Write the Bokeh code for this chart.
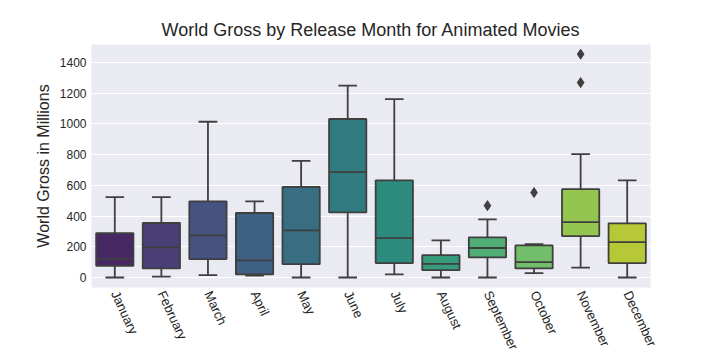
import colorsys
import numpy as np
from bokeh.plotting import figure
from bokeh.models import FixedTicker, ColumnDataSource
from bokeh.palettes import Viridis256
from bokeh.transform import dodge
from bokeh.embed import file_html
from bokeh.resources import INLINE

months = ["January", "February", "March", "April", "May", "June", "July",
          "August", "September", "October", "November", "December"]
whisk_low = [0, 6, 15, 13, 0, 0, 20, 0, 0, 28, 65, 0]
q1 = [76, 59, 120, 20, 87, 424, 94, 48, 131, 59, 270, 94]
median = [122, 196, 274, 111, 307, 686, 257, 89, 192, 100, 361, 231]
q3 = [289, 355, 496, 420, 590, 1032, 633, 146, 261, 209, 575, 353]
whisk_high = [524, 524, 1014, 496, 760, 1249, 1162, 242, 379, 218, 803, 633]
outlier_month = ["September", "October", "November", "November"]
outlier_value = [468, 553, 1269, 1454]
y_ticks = [0, 200, 400, 600, 800, 1000, 1200, 1400]


def desat(hexc, prop=0.75):
    r, g, b = (int(hexc[i:i + 2], 16) / 255 for i in (1, 3, 5))
    h, l, s = colorsys.rgb_to_hls(r, g, b)
    r, g, b = colorsys.hls_to_rgb(h, l, s * prop)
    return "#%02x%02x%02x" % tuple(int(round(c * 255)) for c in (r, g, b))


idx = (np.linspace(0, 1, len(months) + 2)[1:-1] * 255).round().astype(int)
colors = [desat(Viridis256[i]) for i in idx]

src = ColumnDataSource(dict(m=months, lo=whisk_low, q1=q1, med=median, q3=q3,
                            hi=whisk_high, c=colors))

p = figure(x_range=months, y_range=(-65, 1517), frame_width=559, frame_height=243,
           output_backend="svg", toolbar_location=None,
           title="World Gross by Release Month for Animated Movies",
           min_border_left=91, min_border_right=62, min_border_top=44,
           min_border_bottom=10)
p.x_range.range_padding = 0
p.background_fill_color = "#EAEAF2"
p.border_fill_color = "white"
p.outline_line_color = None

edge = "#3f3f3f"
lw = 1.8
p.segment(x0="m", y0="lo", x1="m", y1="q1", source=src, line_color=edge, line_width=lw)
p.segment(x0="m", y0="q3", x1="m", y1="hi", source=src, line_color=edge, line_width=lw)
p.segment(x0=dodge("m", -0.2, range=p.x_range), y0="lo", x1=dodge("m", 0.2, range=p.x_range),
          y1="lo", source=src, line_color=edge, line_width=lw)
p.segment(x0=dodge("m", -0.2, range=p.x_range), y0="hi", x1=dodge("m", 0.2, range=p.x_range),
          y1="hi", source=src, line_color=edge, line_width=lw)
p.vbar(x="m", bottom="q1", top="q3", width=0.8, source=src, fill_color="c",
       line_color=edge, line_width=lw)
p.segment(x0=dodge("m", -0.4, range=p.x_range), y0="med", x1=dodge("m", 0.4, range=p.x_range),
          y1="med", source=src, line_color=edge, line_width=lw)
p.scatter(x=outlier_month, y=outlier_value, marker="diamond", size=10,
          fill_color=edge, line_color=edge)

p.title.align = "center"
p.title.text_font = "Liberation Sans"
p.title.text_font_style = "normal"
p.title.text_font_size = "18px"
p.title.text_color = "#262626"

p.yaxis.ticker = FixedTicker(ticks=y_ticks)
p.yaxis.axis_label = "World Gross in Millions"
p.yaxis.axis_label_text_font = "Liberation Sans"
p.yaxis.axis_label_text_font_style = "normal"
p.yaxis.axis_label_text_font_size = "16px"
p.yaxis.axis_label_text_color = "#262626"
for ax in (p.xaxis, p.yaxis):
    ax.axis_line_color = None
    ax.major_tick_line_color = None
    ax.minor_tick_line_color = None
    ax.major_tick_out = 0
    ax.major_tick_in = 0
    ax.major_label_text_font = "Liberation Sans"
    ax.major_label_text_color = "#262626"
p.yaxis.major_label_text_font_size = "12px"
p.xaxis.major_label_text_font_size = "13px"
p.xaxis.major_label_standoff = 4
p.xaxis.major_label_orientation = -65 * np.pi / 180

p.xgrid.grid_line_color = None
p.ygrid.grid_line_color = "white"
p.ygrid.grid_line_width = 1.2

open("out.html", "w").write(file_html(p, INLINE))
